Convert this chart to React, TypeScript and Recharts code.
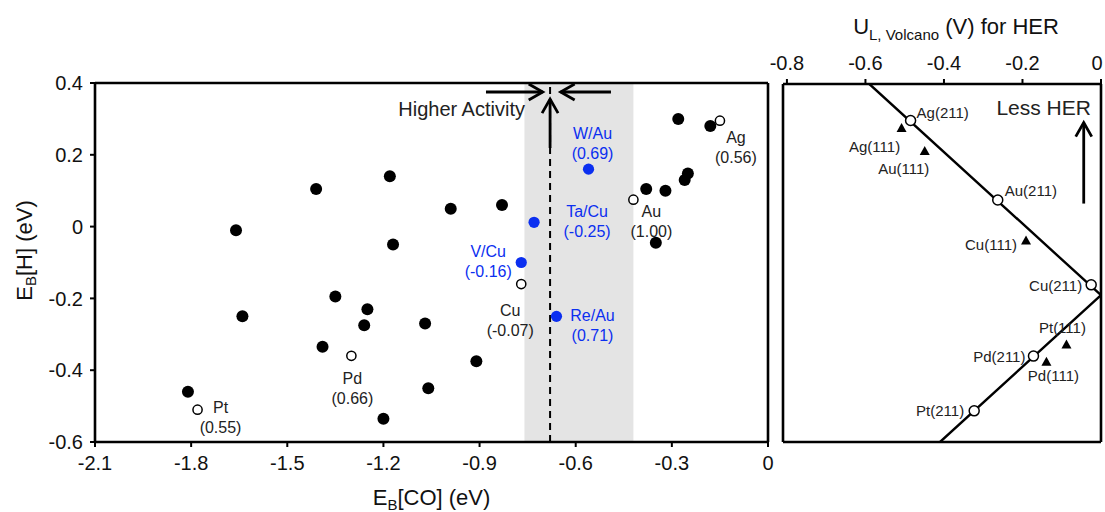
import React from 'react';
import {
  ScatterChart,
  Scatter,
  XAxis,
  YAxis,
  ReferenceArea,
  ReferenceLine,
  ReferenceDot,
  Label,
} from 'recharts';

// ---- left panel: E_B[CO] vs E_B[H] ----
const alloyCO = [-1.81, -1.66, -1.64, -1.41, -1.39, -1.35, -1.25, -1.26, -1.18, -1.17, -1.2, -1.07, -1.06, -0.99, -0.91, -0.83, -0.38, -0.32, -0.26, -0.25, -0.35, -0.28, -0.18];
const alloyH = [-0.46, -0.01, -0.25, 0.105, -0.335, -0.195, -0.23, -0.275, 0.14, -0.05, -0.535, -0.27, -0.45, 0.05, -0.375, 0.06, 0.105, 0.1, 0.13, 0.148, -0.045, 0.3, 0.28];

const metalNames = ['Pt', 'Pd', 'Cu', 'Au', 'Ag'];
const metalCO = [-1.78, -1.3, -0.77, -0.42, -0.15];
const metalH = [-0.51, -0.36, -0.16, 0.075, 0.295];
const metalUL = ['0.55', '0.66', '-0.07', '1.00', '0.56'];

const candNames = ['W/Au', 'Ta/Cu', 'V/Cu', 'Re/Au'];
const candCO = [-0.56, -0.73, -0.77, -0.66];
const candH = [0.16, 0.012, -0.1, -0.25];
const candUL = ['0.69', '-0.25', '-0.16', '0.71'];

const bandCO = [-0.76, -0.42];
const optimumCO = -0.68;

const coTicks = [-2.1, -1.8, -1.5, -1.2, -0.9, -0.6, -0.3, 0];
const hTicks = [-0.6, -0.4, -0.2, 0, 0.2, 0.4];

// ---- right panel: HER volcano ----
const stepNames = ['Ag(211)', 'Au(211)', 'Cu(211)', 'Pd(211)', 'Pt(211)'];
const stepUL = [-0.485, -0.263, -0.025, -0.172, -0.323];
const stepH = [0.298, 0.076, -0.161, -0.36, -0.513];

const terraceNames = ['Ag(111)', 'Au(111)', 'Cu(111)', 'Pt(111)', 'Pd(111)'];
const terraceUL = [-0.508, -0.449, -0.191, -0.088, -0.139];
const terraceH = [0.277, 0.213, -0.037, -0.328, -0.376];

const volcanoUL = [-0.59, 0, -0.41];
const volcanoH = [0.4, -0.19, -0.6];

const ulTicks = [-0.8, -0.6, -0.4, -0.2, 0];

const FONT = '"Liberation Sans", Arial, Helvetica, sans-serif';
const BLUE = '#0b2ff0';

const alloys = alloyCO.map((co, i) => ({ co, h: alloyH[i] }));
const metals = metalNames.map((name, i) => ({ name, co: metalCO[i], h: metalH[i], ul: metalUL[i] }));
const cands = candNames.map((name, i) => ({ name, co: candCO[i], h: candH[i], ul: candUL[i] }));
const steps = stepNames.map((name, i) => ({ name, ul: stepUL[i], h: stepH[i] }));
const terraces = terraceNames.map((name, i) => ({ name, ul: terraceUL[i], h: terraceH[i] }));
const volcano = volcanoUL.map((ul, i) => ({ ul, h: volcanoH[i] }));

type Pos = { dx: number; dy: number; anchor?: 'start' | 'middle' | 'end' };

// label placement relative to the marker, in px
const leftLabelPos: Record<string, Pos> = {
  Pt: { dx: 23, dy: -2 },
  Pd: { dx: 1, dy: 23 },
  Cu: { dx: -11, dy: 26 },
  Au: { dx: 18, dy: 12 },
  Ag: { dx: 16, dy: 17 },
  'W/Au': { dx: 4, dy: -36 },
  'Ta/Cu': { dx: 53, dy: -11 },
  'V/Cu': { dx: -33, dy: -11 },
  'Re/Au': { dx: 36, dy: -1 },
};

const rightLabelPos: Record<string, Pos> = {
  'Ag(211)': { dx: 6, dy: -8, anchor: 'start' },
  'Au(211)': { dx: 7, dy: -9, anchor: 'start' },
  'Cu(211)': { dx: -9, dy: 1, anchor: 'end' },
  'Pd(211)': { dx: -8, dy: 0, anchor: 'end' },
  'Pt(211)': { dx: -10, dy: 0, anchor: 'end' },
  'Ag(111)': { dx: -27, dy: 18, anchor: 'middle' },
  'Au(111)': { dx: -21, dy: 18, anchor: 'middle' },
  'Cu(111)': { dx: -9, dy: 4, anchor: 'end' },
  'Pt(111)': { dx: -4, dy: -17, anchor: 'middle' },
  'Pd(111)': { dx: 7, dy: 14, anchor: 'middle' },
};

const none = () => <g />;

const dot = (props: any) => <circle cx={props.cx} cy={props.cy} r={6} fill="#000" />;

const labelledDot = (color: string, open: boolean) => (props: any) => {
  const { cx, cy, payload } = props;
  const p = leftLabelPos[payload.name];
  return (
    <g>
      {open ? (
        <circle cx={cx} cy={cy} r={4.6} fill="#fff" stroke="#000" strokeWidth={1.5} />
      ) : (
        <circle cx={cx} cy={cy} r={5.6} fill={color} />
      )}
      <text x={cx + p.dx} y={cy + p.dy} textAnchor="middle" dominantBaseline="central" fill={color} fontSize={16} fontFamily={FONT}>
        {payload.name}
      </text>
      <text x={cx + p.dx} y={cy + p.dy + 20} textAnchor="middle" dominantBaseline="central" fill={color} fontSize={16} fontFamily={FONT}>
        ({payload.ul})
      </text>
    </g>
  );
};

const volcanoMark = (kind: 'step' | 'terrace') => (props: any) => {
  const { cx, cy, payload } = props;
  const p = rightLabelPos[payload.name];
  return (
    <g>
      {kind === 'step' ? (
        <circle cx={cx} cy={cy} r={5} fill="#fff" stroke="#000" strokeWidth={1.5} />
      ) : (
        <polygon points={`${cx},${cy - 5} ${cx - 5},${cy + 4} ${cx + 5},${cy + 4}`} fill="#000" />
      )}
      <text x={cx + p.dx} y={cy + p.dy} textAnchor={p.anchor} dominantBaseline="central" fill="#222" fontSize={15} fontFamily={FONT}>
        {payload.name}
      </text>
    </g>
  );
};

const Arrow = (props: any) => {
  const { x1, y1, x2, y2 } = props;
  const a = Math.atan2(y2 - y1, x2 - x1);
  const L = 14;
  const W = 8;
  const bx = x2 - L * Math.cos(a);
  const by = y2 - L * Math.sin(a);
  const nx = -Math.sin(a) * W;
  const ny = Math.cos(a) * W;
  return (
    <g>
      <line x1={x1} y1={y1} x2={x2} y2={y2} stroke="#000" strokeWidth={2.8} />
      <polyline points={`${bx + nx},${by + ny} ${x2},${y2} ${bx - nx},${by - ny}`} fill="none" stroke="#000" strokeWidth={2.8} />
    </g>
  );
};

const note = (text: string, size: number) => (props: any) => (
  <text x={props.cx} y={props.cy} textAnchor="middle" dominantBaseline="central" fill="#222" fontSize={size} fontFamily={FONT}>
    {text}
  </text>
);

const tickStyle = { fill: '#111', fontSize: 20, fontFamily: FONT };
const axisLine = { stroke: '#000', strokeWidth: 2.6 };
const tickLine = { stroke: '#000', strokeWidth: 2 };

// top tick labels of the volcano panel; the last one is nudged in so it is not cut by the page edge
const TopTick = (props: any) => {
  const { x, y, payload } = props;
  const shift = payload.value === 0 ? -4 : 0;
  return (
    <text x={x + shift} y={y + 2} textAnchor="middle" fill="#111" fontSize={20} fontFamily={FONT}>
      {payload.value}
    </text>
  );
};

const YTitle = (props: any) => {
  const vb = props.viewBox;
  const x = vb.x - 11;
  const y = vb.y + vb.height / 2 - 12;
  return (
    <text x={x} y={y} transform={`rotate(-90, ${x}, ${y})`} textAnchor="middle" dominantBaseline="central" fill="#111" fontSize={22} fontFamily={FONT}>
      E<tspan dy={6} fontSize={15}>B</tspan>
      <tspan dy={-6}>[H] (eV)</tspan>
    </text>
  );
};

const XTitle = (props: any) => {
  const vb = props.viewBox;
  return (
    <text x={vb.x + vb.width / 2} y={vb.y + 63} textAnchor="middle" fill="#111" fontSize={22} fontFamily={FONT}>
      E<tspan dy={5} fontSize={15}>B</tspan>
      <tspan dy={-5}>[CO] (eV)</tspan>
    </text>
  );
};

const TopTitle = (props: any) => {
  const vb = props.viewBox;
  return (
    <text x={vb.x + vb.width / 2 + 14} y={vb.y - 49} textAnchor="middle" fill="#111" fontSize={22} fontFamily={FONT}>
      U<tspan dy={6} fontSize={15}>L, Volcano</tspan>
      <tspan dy={-6}> (V) for HER</tspan>
    </text>
  );
};

export default function App() {
  return (
    <div style={{ position: 'absolute', left: 0, top: 0, width: 1105, height: 512, background: '#fff' }}>
      <div style={{ position: 'absolute', left: 0, top: 0 }}>
        <ScatterChart width={775} height={512} margin={{ top: 82, right: 6, bottom: 30, left: 35 }}>
          <XAxis
            type="number"
            dataKey="co"
            domain={[-2.1, 0]}
            ticks={coTicks}
            interval={0}
            height={40}
            tick={tickStyle}
            tickSize={5}
            tickMargin={9}
            axisLine={axisLine}
            tickLine={tickLine}
            allowDataOverflow
          >
            <Label content={XTitle} />
          </XAxis>
          <XAxis
            xAxisId="top"
            orientation="top"
            type="number"
            domain={[-2.1, 0]}
            ticks={coTicks}
            interval={0}
            height={1}
            tick={none}
            tickSize={5}
            axisLine={axisLine}
            tickLine={tickLine}
          />
          <YAxis
            type="number"
            dataKey="h"
            domain={[-0.6, 0.4]}
            ticks={hTicks}
            interval={0}
            width={60}
            tick={tickStyle}
            tickSize={5}
            tickMargin={7}
            axisLine={axisLine}
            tickLine={tickLine}
            allowDataOverflow
          >
            <Label content={YTitle} />
          </YAxis>
          <YAxis
            yAxisId="right"
            orientation="right"
            type="number"
            domain={[-0.6, 0.4]}
            width={1}
            tick={none}
            tickLine={false}
            axisLine={axisLine}
          />
          <ReferenceArea x1={bandCO[0]} x2={bandCO[1]} fill="#e4e4e4" fillOpacity={1} stroke="none" />
          <ReferenceLine x={optimumCO} stroke="#000" strokeWidth={2} strokeDasharray="7 5" />
          <ReferenceLine segment={[{ x: -0.88, y: 0.375 }, { x: -0.703, y: 0.375 }]} shape={Arrow} />
          <ReferenceLine segment={[{ x: -0.49, y: 0.375 }, { x: -0.647, y: 0.375 }]} shape={Arrow} />
          <ReferenceLine segment={[{ x: optimumCO, y: 0.219 }, { x: optimumCO, y: 0.355 }]} shape={Arrow} />
          <ReferenceDot x={-0.956} y={0.327} r={0} shape={note('Higher Activity', 20)} />
          <Scatter data={alloys} shape={dot} isAnimationActive={false} />
          <Scatter data={metals} shape={labelledDot('#222', true)} isAnimationActive={false} />
          <Scatter data={cands} shape={labelledDot(BLUE, false)} isAnimationActive={false} />
        </ScatterChart>
      </div>
      <div style={{ position: 'absolute', left: 762, top: 0 }}>
        <ScatterChart width={343} height={512} margin={{ top: 83, right: 3, bottom: 69, left: 20 }}>
          <XAxis
            type="number"
            dataKey="ul"
            orientation="top"
            domain={[-0.81, 0]}
            ticks={ulTicks}
            interval={0}
            height={1}
            tick={TopTick}
            tickSize={5}
            tickMargin={11}
            axisLine={axisLine}
            tickLine={tickLine}
            allowDataOverflow
          >
            <Label content={TopTitle} />
          </XAxis>
          <XAxis
            xAxisId="bottom"
            orientation="bottom"
            type="number"
            domain={[-0.81, 0]}
            ticks={ulTicks}
            interval={0}
            height={1}
            tick={none}
            tickSize={5}
            axisLine={axisLine}
            tickLine={tickLine}
          />
          <YAxis type="number" dataKey="h" domain={[-0.6, 0.4]} width={1} tick={none} tickLine={false} axisLine={axisLine} allowDataOverflow />
          <YAxis yAxisId="right" orientation="right" type="number" domain={[-0.6, 0.4]} width={1} tick={none} tickLine={false} axisLine={axisLine} />
          <ReferenceLine segment={[{ x: -0.044, y: 0.066 }, { x: -0.044, y: 0.292 }]} shape={Arrow} />
          <ReferenceDot x={-0.146} y={0.333} r={0} shape={note('Less HER', 21)} />
          <Scatter data={volcano} line={{ stroke: '#000', strokeWidth: 2.4 }} shape={none} isAnimationActive={false} />
          <Scatter data={steps} shape={volcanoMark('step')} isAnimationActive={false} />
          <Scatter data={terraces} shape={volcanoMark('terrace')} isAnimationActive={false} />
        </ScatterChart>
      </div>
    </div>
  );
}
